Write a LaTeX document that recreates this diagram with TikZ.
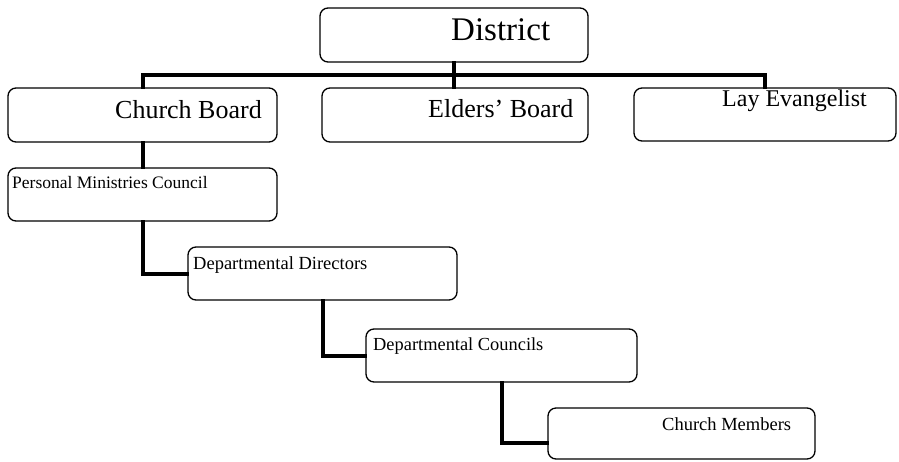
\documentclass[tikz,border=0pt]{standalone}
\usepackage{fontspec}
\setmainfont{Liberation Serif}
\usetikzlibrary{fit}
\tikzset{
  box/.style={draw=black, line width=1.3pt, rounded corners=8pt, inner sep=0pt, fill=white},
  conn/.style={draw=black, line width=4pt, line join=miter, line cap=rect},
  lbl/.style={anchor=base west, inner sep=0pt, text=black}
}
\newcommand{\fsz}[1]{\fontsize{#1}{#1}\selectfont}
\begin{document}
\begin{tikzpicture}[x=1pt,y=-1pt]
\useasboundingbox (0,0) rectangle (899,461);
\fill[white] (0,0) rectangle (899,461);
% boxes
\node[box, fit={(320,8) (588,62)}] (district) {};
\node[box, fit={(8,88) (277,142)}] (church) {};
\node[box, fit={(322,88) (588,142)}] (elders) {};
\node[box, fit={(634,88) (896,141)}] (lay) {};
\node[box, fit={(8,168) (277,221)}] (pmc) {};
\node[box, fit={(188,247) (457,300)}] (dd) {};
\node[box, fit={(366,329) (637,382)}] (dc) {};
\node[box, fit={(548,408) (815,459)}] (cm) {};
% texts
\node[lbl, font=\fsz{33}] (tdistrict) at (451,40) {District};
\node[lbl, font=\fsz{26}] (tchurch) at (115,118) {Church Board};
\node[lbl, font=\fsz{26}] (telders) at (428,117) {Elders' Board};
\node[lbl, font=\fsz{24}] (tlay) at (722,106) {Lay Evangelist};
\node[lbl, font=\fsz{17.5}] (tpmc) at (12,188) {Personal Ministries Council};
\node[lbl, font=\fsz{18.5}] (tdd) at (193,269) {Departmental Directors};
\node[lbl, font=\fsz{18.4}] (tdc) at (373,350) {Departmental Councils};
\node[lbl, font=\fsz{18.5}] (tcm) at (662,430) {Church Members};
% connectors
\coordinate (bus) at (455,75);
\draw[conn] (district.south) -- (district.south |- elders.north);
\draw[conn] (church.north) |- (bus) -| (lay.north);
\draw[conn] (church.south) -- (pmc.north);
\draw[conn] (pmc.south) |- (dd.west);
\draw[conn] (dd.south) |- (dc.west);
\coordinate (cmin) at ([yshift=-9.5pt]cm.west);
\draw[conn] (dc.south) |- (cmin);
\end{tikzpicture}
\end{document}
